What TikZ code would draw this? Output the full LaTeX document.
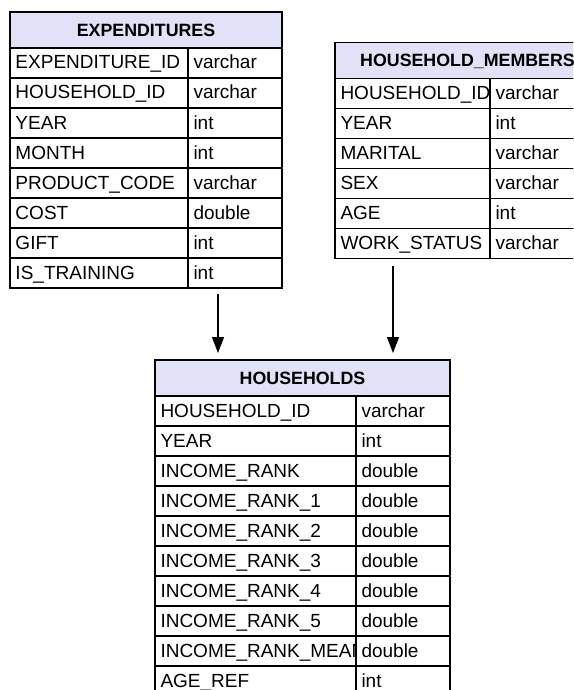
\documentclass[tikz,border=0pt]{standalone}
\usepackage{fontspec}
\setmainfont{Liberation Sans}
\usepackage{tikz}
\usetikzlibrary{arrows.meta,positioning,calc}
\definecolor{headfill}{RGB}{225,225,248}
\hyphenpenalty=10000

\begin{document}
\begin{tikzpicture}[x=1pt,y=-1pt,
  tabhead/.style={draw,line width=1.2pt,fill=headfill,anchor=north west,outer sep=0pt,inner sep=0pt,
    minimum height=36pt,text height=12.8pt,text depth=0pt,font=\fontsize{17.8}{20}\selectfont\bfseries},
  namecell/.style={draw,line width=1.2pt,anchor=north west,outer sep=0pt,inner sep=0pt,inner xsep=5.5pt,
    minimum height=30pt,text height=13.5pt,text depth=1.5pt,align=left,font=\fontsize{19}{21}\selectfont},
  typecell/.style={namecell,fill=white,text width=83pt},
  link/.style={line width=1.2pt,-{Triangle[length=16pt,width=12pt]}}]
  \useasboundingbox (0,0) rectangle (573,690);
  \clip (0,0) rectangle (573,690);
  % 支出テーブル(左上)
  \node[tabhead,minimum width=272pt] (exp) at (10,12) {EXPENDITURES};
  \foreach \nm/\ty [count=\i] in {EXPENDITURE\_ID/varchar,HOUSEHOLD\_ID/varchar,YEAR/int,MONTH/int,
      PRODUCT\_CODE/varchar,COST/double,GIFT/int,IS\_TRAINING/int}{
    \node[namecell,text width=167pt] (exp-n\i) at ($(exp.south west)+(0,30*\i-30)$) {\nm};
    \node[typecell] (exp-t\i) at (exp-n\i.north east) {\ty};
  }
  % 世帯員テーブル(右上, 右端は切れる)
  \node[tabhead,minimum width=265pt] (mem) at (335,42.5) {HOUSEHOLD\_MEMBERS};
  \foreach \nm/\ty [count=\i] in {HOUSEHOLD\_ID/varchar,YEAR/int,MARITAL/varchar,SEX/varchar,
      AGE/int,WORK\_STATUS/varchar}{
    \node[namecell,text width=144pt] (mem-n\i) at ($(mem.south west)+(0,30*\i-30)$) {\nm};
    \node[typecell,text width=99pt] (mem-t\i) at (mem-n\i.north east) {\ty};
  }
  % 世帯テーブル(下)
  \node[tabhead,minimum width=295pt] (hh) at (155,360) {HOUSEHOLDS};
  \foreach \nm/\ty [count=\i] in {HOUSEHOLD\_ID/varchar,YEAR/int,INCOME\_RANK/double,
      INCOME\_RANK\_1/double,INCOME\_RANK\_2/double,INCOME\_RANK\_3/double,INCOME\_RANK\_4/double,
      INCOME\_RANK\_5/double,INCOME\_RANK\_MEAN/double,AGE\_REF/int}{
    \node[namecell,text width=190pt] (hh-n\i) at ($(hh.south west)+(0,30*\i-30)$) {\nm};
    \node[typecell] (hh-t\i) at (hh-n\i.north east) {\ty};
  }
  % 矢印
  \coordinate (in1) at ($(hh.north west)+(63,0)$);
  \coordinate (in2) at ($(hh.north east)+(-57,0)$);
  \draw[link,shorten <=6pt,shorten >=7pt] (exp-t8.south -| in1) -- (in1);
  \draw[link,shorten <=7.5pt,shorten >=7pt] (mem-t6.south -| in2) -- (in2);
\end{tikzpicture}
\end{document}
